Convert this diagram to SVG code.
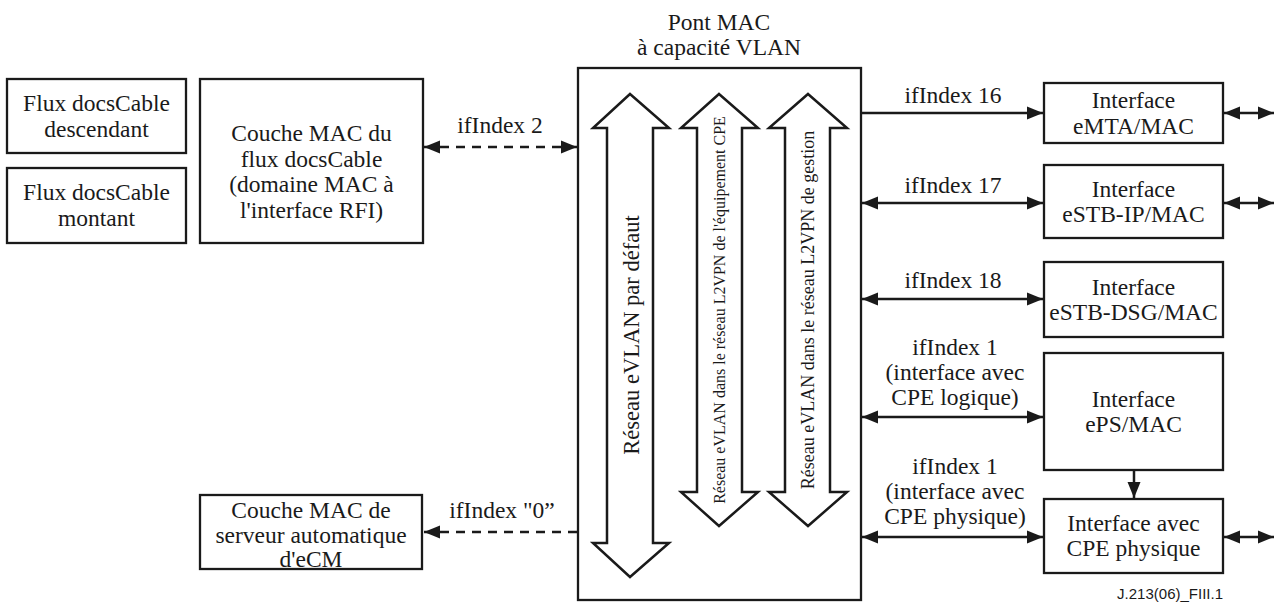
<svg xmlns="http://www.w3.org/2000/svg" width="1278" height="603" viewBox="0 0 1278 603">
<style>
.bx{fill:#fff;stroke:#1a1a1a;stroke-width:2.3}
.bg{fill:#fff;stroke:#1a1a1a;stroke-width:2.5;stroke-linejoin:miter}
.t{font-family:"Liberation Serif","Times New Roman",serif;font-size:23.5px;fill:#1a1a1a;text-anchor:middle}
.c{fill:none;stroke:#1a1a1a;stroke-width:2.5}
.d{stroke-dasharray:9 7}
.two{marker-start:url(#ah);marker-end:url(#ah)}
.one{marker-end:url(#ah)}
.ref{font-family:"Liberation Sans",Arial,sans-serif;font-size:15px;fill:#1a1a1a;text-anchor:end}
</style>
<defs>
<marker id="ah" markerUnits="userSpaceOnUse" markerWidth="17" markerHeight="15" refX="16" refY="7.5" orient="auto-start-reverse">
<path d="M0,1 L16,7.5 L0,14 z" fill="#1a1a1a"/>
</marker>
</defs>
<rect width="1278" height="603" fill="#fff"/>

<g id="bridge">
<rect class="bx" x="578" y="68" width="283" height="532"/>
<text class="t" x="719" y="30">Pont MAC</text>
<text class="t" x="719" y="55">à capacité VLAN</text>
</g>

<g id="vlan-default">
<polygon class="bg" points="630,94 669,128 653,128 653,543 669,543 630,577 593,543 607,543 607,128 593,128"/>
<text class="t" style="font-size:22.5px" transform="translate(638.5,335) rotate(-90)" x="0" y="0">Réseau eVLAN par défaut</text>
</g>
<g id="vlan-cpe">
<polygon class="bg" points="719,94 758,128 742,128 742,492 758,492 719,526 681,492 697,492 697,128 681,128"/>
<text class="t" style="font-size:16px" transform="translate(725,310) rotate(-90)" x="0" y="0">Réseau eVLAN dans le réseau L2VPN de l'équipement CPE</text>
</g>
<g id="vlan-mgmt">
<polygon class="bg" points="808,94 847,128 830,128 830,492 847,492 808,526 769,492 785,492 785,128 769,128"/>
<text class="t" style="font-size:18px" transform="translate(814,310) rotate(-90)" x="0" y="0">Réseau eVLAN dans le réseau L2VPN de gestion</text>
</g>

<g id="flux-desc">
<rect class="bx" x="7" y="79" width="179" height="74"/>
<text class="t" x="96.5" y="111">Flux docsCable</text>
<text class="t" x="96.5" y="136.5">descendant</text>
</g>
<g id="flux-mont">
<rect class="bx" x="7" y="168" width="179" height="75"/>
<text class="t" x="96.5" y="200">Flux docsCable</text>
<text class="t" x="96.5" y="225.5">montant</text>
</g>
<g id="mac-rfi">
<rect class="bx" x="200" y="79" width="223" height="164"/>
<text class="t" x="311.5" y="141">Couche MAC du</text>
<text class="t" x="311.5" y="166.5">flux docsCable</text>
<text class="t" x="311.5" y="192">(domaine MAC à</text>
<text class="t" x="311.5" y="217.5">l'interface RFI)</text>
</g>
<g id="ecm">
<rect class="bx" x="200" y="495" width="222" height="74"/>
<text class="t" x="311" y="518">Couche MAC de</text>
<text class="t" x="311" y="542.5">serveur automatique</text>
<text class="t" x="311" y="566.5">d'eCM</text>
</g>

<g id="emta">
<rect class="bx" x="1044" y="83" width="179" height="60"/>
<text class="t" x="1133.5" y="108">Interface</text>
<text class="t" x="1133.5" y="133.5">eMTA/MAC</text>
</g>
<g id="estb-ip">
<rect class="bx" x="1044" y="165" width="179" height="73"/>
<text class="t" x="1133.5" y="196.5">Interface</text>
<text class="t" x="1133.5" y="222">eSTB-IP/MAC</text>
</g>
<g id="estb-dsg">
<rect class="bx" x="1044" y="262" width="179" height="75"/>
<text class="t" x="1133.5" y="294.5">Interface</text>
<text class="t" x="1133.5" y="320">eSTB-DSG/MAC</text>
</g>
<g id="eps">
<rect class="bx" x="1044" y="353" width="179" height="117"/>
<text class="t" x="1133.5" y="406.5">Interface</text>
<text class="t" x="1133.5" y="432">ePS/MAC</text>
</g>
<g id="cpe-phys">
<rect class="bx" x="1044" y="499" width="179" height="74"/>
<text class="t" x="1133.5" y="530.5">Interface avec</text>
<text class="t" x="1133.5" y="556">CPE physique</text>
</g>

<g id="connectors">
<line class="c d two" x1="424" y1="147" x2="577" y2="147"/>
<line class="c d one" x1="577" y1="532" x2="424" y2="532"/>
<line class="c one" x1="862" y1="113" x2="1043" y2="113"/>
<line class="c two" x1="862" y1="203" x2="1043" y2="203"/>
<line class="c two" x1="862" y1="299" x2="1043" y2="299"/>
<line class="c two" x1="862" y1="417" x2="1043" y2="417"/>
<line class="c two" x1="862" y1="537" x2="1043" y2="537"/>
<line class="c one" x1="1134" y1="471" x2="1134" y2="498"/>
<line class="c two" x1="1224" y1="113" x2="1274" y2="113"/>
<line class="c two" x1="1224" y1="203" x2="1274" y2="203"/>
<line class="c two" x1="1224" y1="537" x2="1274" y2="537"/>
</g>

<g id="labels">
<text class="t" x="500" y="133">ifIndex 2</text>
<text class="t" x="502" y="518">ifIndex "0”</text>
<text class="t" x="953" y="103">ifIndex 16</text>
<text class="t" x="953" y="193">ifIndex 17</text>
<text class="t" x="953" y="288">ifIndex 18</text>
<text class="t" x="955" y="355">ifIndex 1</text>
<text class="t" x="955" y="380">(interface avec</text>
<text class="t" x="955" y="405">CPE logique)</text>
<text class="t" x="955" y="474">ifIndex 1</text>
<text class="t" x="955" y="499">(interface avec</text>
<text class="t" x="955" y="524">CPE physique)</text>
</g>
<text class="ref" x="1223" y="599">J.213(06)_FIII.1</text>
</svg>
